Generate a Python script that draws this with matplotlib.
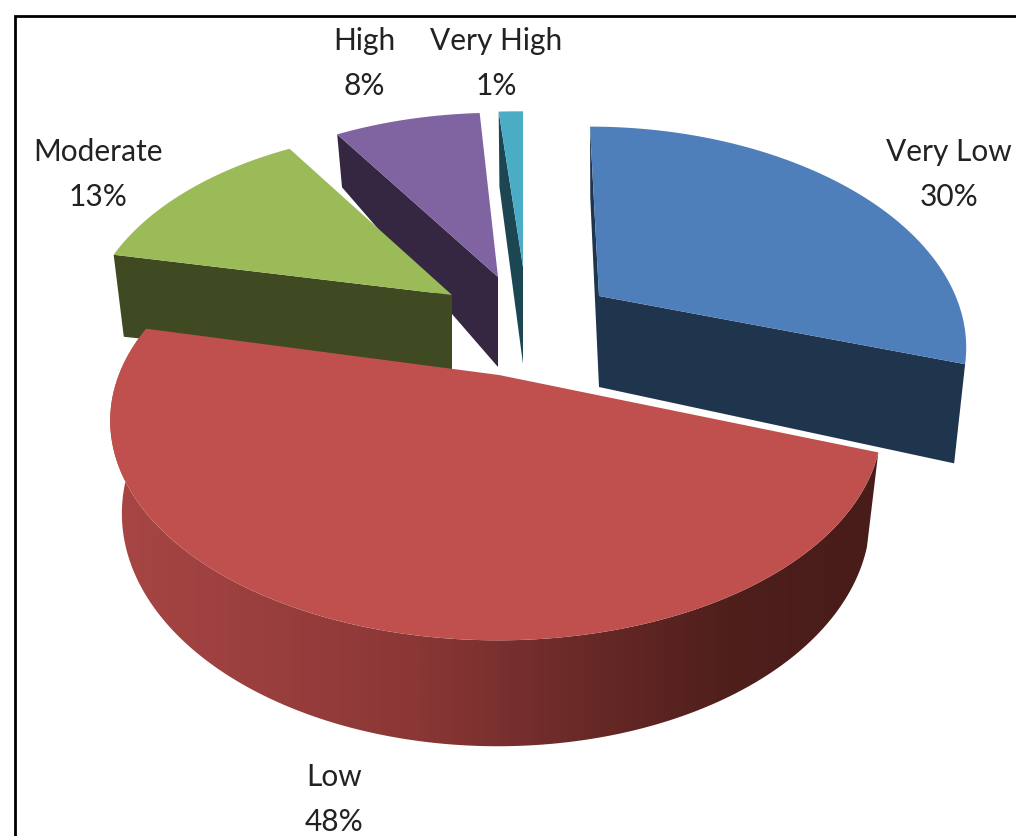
import numpy as np
import matplotlib
matplotlib.use("Agg")
import matplotlib.pyplot as plt
from matplotlib.colors import LinearSegmentedColormap
from matplotlib.patches import Polygon

# Data
labels = ["Very Low", "Low", "Moderate", "High", "Very High"]
values = [30, 48, 13, 8, 1]
top_colors = ["#4f7fba", "#c0504d", "#9bbb59", "#8064a2", "#4bacc6"]
side_colors = ["#1f344d", "#7a2f2d", "#3f4922", "#352742", "#1d4653"]

# Layout of the 3d look, in pixels
apex_x = [599, 499, 452, 498, 523]
apex_y = [297, 376, 296, 278, 268]
scale_x = [0.985, 1.04, 0.99, 0.98, 1.3]
scale_y = [0.99, 1.0, 0.97, 0.96, 0.91]
shear = [0, 9, 4, 0, 0]
lean = [9, -14, 0, 0, 0]
depth = [91, 90, 76, 90, 97]
bottom_y = [1.12, 1.06, 0.85, 1.26, 1.14]
label_x = [949, 334, 98, 364, 496]
label_y = [152, 777, 152, 41, 41]

RX, RY, PERSP = 362, 208, 0.2157

plt.rcParams["font.family"] = ["Lato", "DejaVu Sans"]
fig = plt.figure(figsize=(10.16, 8.37), dpi=100)
ax = fig.add_axes([0, 0, 1, 1])
ax.set_xlim(0, 1016)
ax.set_ylim(837, 0)
ax.axis("off")

# Slice angles go clockwise from twelve o'clock
shares = np.array(values) / sum(values) * 2 * np.pi
ends = np.cumsum(shares)
starts = ends - shares


def rim(i, theta, bottom=False):
    u, v = np.sin(theta), -np.cos(theta)
    s = 1 / (1 - PERSP * v)
    x = RX * u * s * scale_x[i] + lean[i] * v
    y = RY * v * s * scale_y[i] + shear[i] * u
    if bottom:
        return apex_x[i] + x * 0.97, apex_y[i] + depth[i] + y * bottom_y[i]
    return apex_x[i] + x, apex_y[i] + y


def cut_face(i, theta, zorder):
    xa, ya = apex_x[i], apex_y[i]
    xr, yr = rim(i, theta)
    xb, yb = rim(i, theta, bottom=True)
    ax.add_patch(Polygon([(xa, ya), (xr, yr), (xb, yb), (xa, ya + depth[i])],
                         closed=True, fc=side_colors[i], ec="none", zorder=zorder))


def top_face(i, zorder):
    th = np.linspace(starts[i], ends[i], 120)
    x, y = rim(i, th)
    pts = np.column_stack([np.r_[apex_x[i], x], np.r_[apex_y[i], y]])
    ax.add_patch(Polygon(pts, closed=True, fc=top_colors[i], ec="none", zorder=zorder))


# Back to front: cyan, blue, purple, green, red
cut_face(4, starts[4], 2)
top_face(4, 3)
cut_face(0, starts[0], 2)
cut_face(0, ends[0], 2)
top_face(0, 3)
cut_face(3, starts[3], 4)
top_face(3, 5)
cut_face(2, starts[2], 6)
top_face(2, 7)

# Red slice, outer wall has a gradient from left to right
th = np.linspace(starts[1], ends[1], 240)
xt, yt = rim(1, th)
xb, yb = rim(1, th, bottom=True)
wall = Polygon(np.column_stack([np.r_[xt, xb[::-1]], np.r_[yt, yb[::-1]]]),
               closed=True, fc="none", ec="none", zorder=8)
ax.add_patch(wall)
cmap = LinearSegmentedColormap.from_list(
    "wall", ["#a84644", "#9a3f3e", "#8a3736", "#6b2a28", "#4f1f1c", "#471c19"])
grad = ax.imshow(np.linspace(0, 1, 400)[None, :], cmap=cmap, aspect="auto",
                 extent=[105, 885, 760, 320], zorder=8)
grad.set_clip_path(wall)
ax.set_xlim(0, 1016)
ax.set_ylim(837, 0)
top_face(1, 9)

# Labels
for name, val, x, y in zip(labels, values, label_x, label_y):
    ax.text(x, y, name, ha="center", va="center", fontsize=21.5, color="#222222", zorder=10)
    ax.text(x, y + 45, f"{val}%", ha="center", va="center", fontsize=21.5, color="#222222", zorder=10)

# Frame, runs off the right and bottom of the image
ax.plot([1016, 14.5, 14.5], [17, 17, 837], color="black", lw=2, solid_joinstyle="miter", zorder=11)

fig.savefig("out.png", dpi=100)
